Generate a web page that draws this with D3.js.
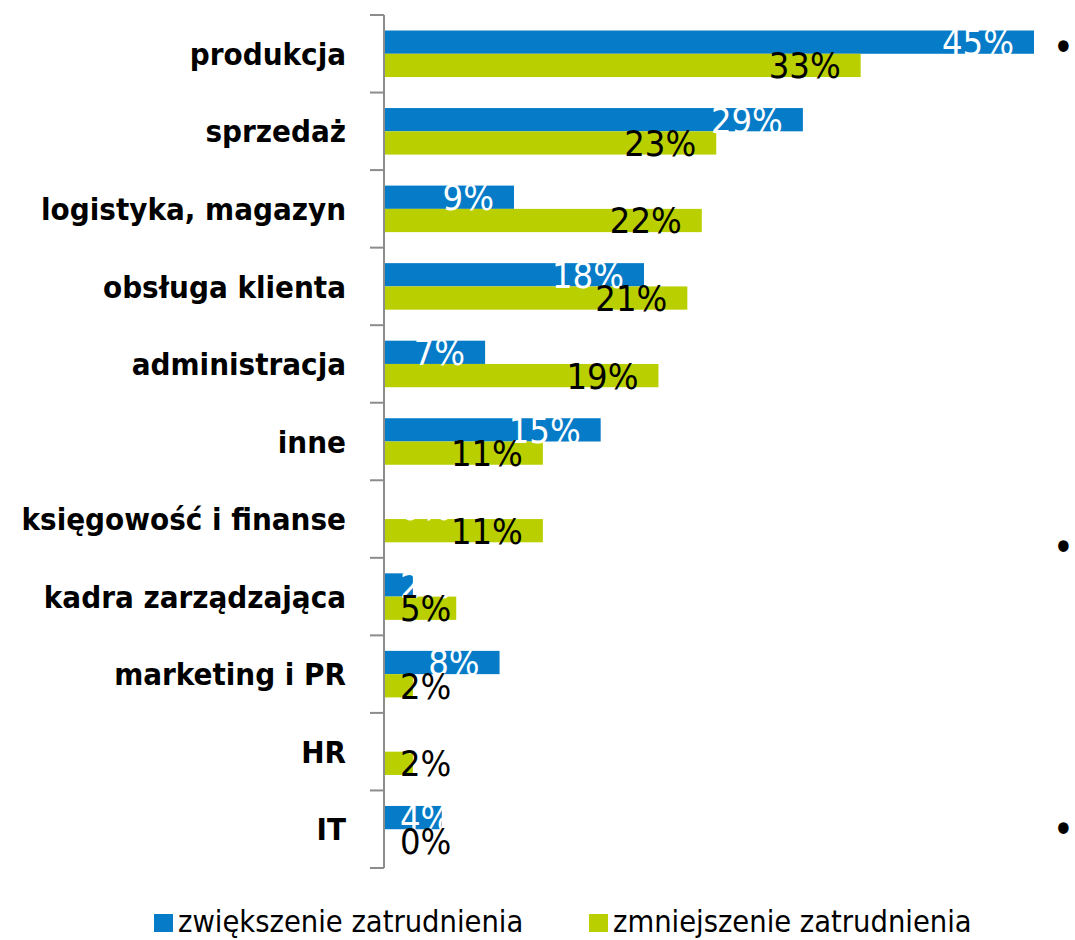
<!DOCTYPE html>
<html>
<head>
<meta charset="utf-8">
<script src="https://cdn.jsdelivr.net/npm/d3@7"></script>
<style>
  html, body { margin: 0; padding: 0; background: #fff; }
  svg { display: block; font-family: "DejaVu Sans Condensed", "DejaVu Sans", sans-serif; font-stretch: condensed; }
</style>
</head>
<body>
<div id="chart"></div>
<script>
(function(){
    "use strict";

    // data
    var categories = ["produkcja", "sprzedaż", "logistyka, magazyn", "obsługa klienta",
        "administracja", "inne", "księgowość i finanse", "kadra zarządzająca",
        "marketing i PR", "HR", "IT"];
    var seriesNames = ["zwiększenie zatrudnienia", "zmniejszenie zatrudnienia"];
    var increase = [45, 29, 9, 18, 7, 15, 0, 2, 8, 0, 4];
    var decrease = [33, 23, 22, 21, 19, 11, 11, 5, 2, 2, 0];
    var seriesColors = ["#067bc7", "#b9cf00"];
    var labelColors = ["#ffffff", "#000000"];

    var width = 1075, height = 940;
    var axisX = 384, maxX = 1034, top = 15, bottom = 868;

    var svg = d3.select("#chart").append("svg")
        .attr("width", width)
        .attr("height", height)
        .style("background", "#fff");

    var x = d3.scaleLinear()
        .domain([0, d3.max(increase.concat(decrease))])
        .range([axisX, maxX]);

    // category slots (tick intervals)
    var yCat = d3.scaleBand().domain(categories).range([top, bottom]).padding(0);
    // bar group inside each slot
    var yBar = d3.scaleBand().domain(categories).range([top, bottom])
        .paddingInner(0.4).paddingOuter(0.2);
    var ySub = d3.scaleBand().domain([0, 1]).range([0, yBar.bandwidth()]);

    var rows = categories.map(function(c, i){
        return {cat: c, values: [increase[i], decrease[i]]};
    });

    // bars
    var groups = svg.append("g").selectAll("g")
        .data(rows)
        .join("g")
        .attr("transform", function(d){ return "translate(0," + yBar(d.cat) + ")"; });

    groups.selectAll("rect")
        .data(function(d){ return d.values.map(function(v, s){ return {v: v, s: s}; }); })
        .join("rect")
        .attr("x", x(0))
        .attr("y", function(d){ return ySub(d.s); })
        .attr("width", function(d){ return x(d.v) - x(0); })
        .attr("height", ySub.bandwidth())
        .attr("fill", function(d){ return seriesColors[d.s]; });

    // value axis line + category ticks
    var axis = svg.append("g").attr("stroke", "#8c8c8c").attr("stroke-width", 2);
    axis.append("line")
        .attr("x1", axisX).attr("x2", axisX)
        .attr("y1", top).attr("y2", bottom);
    var tickYs = categories.map(function(c){ return yCat(c); }).concat([bottom]);
    axis.selectAll("line.tick")
        .data(tickYs)
        .join("line")
        .attr("class", "tick")
        .attr("x1", axisX - 14).attr("x2", axisX)
        .attr("y1", function(d){ return d; })
        .attr("y2", function(d){ return d; });

    // category labels
    svg.append("g").selectAll("text")
        .data(categories)
        .join("text")
        .attr("x", 346)
        .attr("y", function(d){ return yCat(d) + yCat.bandwidth() / 2; })
        .attr("dy", "0.36em")
        .attr("text-anchor", "end")
        .attr("font-size", 31)
        .attr("font-weight", "bold")
        .attr("fill", "#000")
        .text(function(d){ return d; });

    // value labels (inside end, pushed right when too short)
    var fmt = function(v){ return Math.round(v) + "%"; };
    groups.selectAll("text")
        .data(function(d){ return d.values.map(function(v, s){ return {v: v, s: s}; }); })
        .join("text")
        .attr("y", function(d){ return ySub(d.s) + ySub.bandwidth() / 2; })
        .attr("dy", "0.36em")
        .attr("font-size", 36)
        .attr("fill", function(d){ return labelColors[d.s]; })
        .text(function(d){ return fmt(d.v); })
        .each(function(d){
            var w = this.getComputedTextLength();
            var left = Math.max(x(d.v) - 20 - w, x(0) + 16);
            d3.select(this).attr("x", left);
        });

    // legend
    var legend = svg.append("g").attr("transform", "translate(0,923)");
    var legendX = [154, 589];
    seriesNames.forEach(function(name, s){
        legend.append("rect")
            .attr("x", legendX[s]).attr("y", -9)
            .attr("width", 19).attr("height", 18)
            .attr("fill", seriesColors[s]);
        legend.append("text")
            .attr("x", legendX[s] + 24)
            .attr("y", 9)
            .attr("font-size", 30.5)
            .attr("fill", "#000")
            .text(name);
    });

    // bullets of the neighbouring slide text
    svg.append("g").selectAll("text")
        .data([47, 547, 829])
        .join("text")
        .attr("x", 1074)
        .attr("y", function(d){ return d; })
        .attr("dy", "0.36em")
        .attr("text-anchor", "end")
        .attr("font-size", 40)
        .attr("fill", "#000")
        .text("•");
})();
</script>
</body>
</html>
